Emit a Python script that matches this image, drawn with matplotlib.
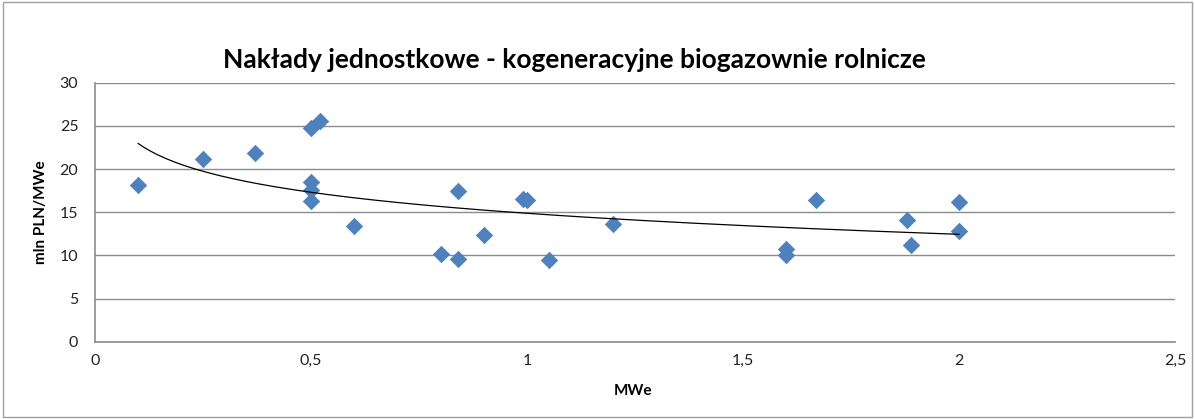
import numpy as np
import matplotlib
matplotlib.use("Agg")
import matplotlib.pyplot as plt
from matplotlib.patches import Rectangle

# Data (MWe, mln PLN/MWe)
power_mwe = [0.10, 0.25, 0.37, 0.50, 0.52, 0.50, 0.50, 0.50, 0.60, 0.80, 0.84, 0.84,
             0.90, 0.99, 1.00, 1.05, 1.20, 1.60, 1.60, 1.67, 1.88, 1.89, 2.00, 2.00]
unit_cost = [18.1, 21.2, 21.9, 24.7, 25.6, 18.5, 17.6, 16.3, 13.4, 10.2, 17.5, 9.6,
             12.4, 16.5, 16.4, 9.5, 13.6, 10.7, 10.0, 16.45, 14.05, 11.2, 16.2, 12.8]
x_ticks = [0, 0.5, 1, 1.5, 2, 2.5]
x_tick_labels = ["0", "0,5", "1", "1,5", "2", "2,5"]
y_ticks = [0, 5, 10, 15, 20, 25, 30]
title = "Nakłady jednostkowe - kogeneracyjne biogazownie rolnicze"

plt.rcParams['font.family'] = ['Lato', 'DejaVu Sans']

fig = plt.figure(figsize=(11.95, 4.19), dpi=100)
ax = fig.add_axes([95/1195, 1 - 341.7/419, (1175-95)/1195, (341.7-82.7)/419])

x = np.array(power_mwe)
y = np.array(unit_cost)

# Logarithmic trendline (least squares of y on ln x, as Excel does)
a, c = np.polyfit(np.log(x), y, 1)
xt = np.linspace(x.min(), x.max(), 200)
yt = a * np.log(xt) + c

ax.scatter(x, y, marker='D', s=70, color='#4F81BD', edgecolors='#4A7EBB', linewidths=0.5, zorder=3)
ax.plot(xt, yt, color='black', lw=0.9, zorder=4)

ax.set_xlim(0, 2.5)
ax.set_ylim(0, 30)
ax.set_xticks(x_ticks)
ax.set_xticklabels(x_tick_labels)
ax.set_yticks(y_ticks)
ax.yaxis.grid(True, color='#8C8C8C', lw=1.0)
ax.set_axisbelow(True)
for s in ['top', 'right']:
    ax.spines[s].set_visible(False)
for s in ['left', 'bottom']:
    ax.spines[s].set_color('#8C8C8C')
    ax.spines[s].set_linewidth(1.2)
ax.tick_params(axis='both', length=0, labelsize=11.5, colors='#222222', pad=9)
ax.tick_params(axis='y', pad=12)

ax.set_ylabel("mln PLN/MWe", fontsize=11, fontweight='bold', labelpad=8)
fig.text(633/1195, 1 - 391/419, "MWe", fontsize=11, fontweight='bold', ha='center', va='center')
fig.text(574/1195, 1 - 60/419, title, fontsize=19, fontweight='bold', ha='center', va='center')

fig.patches.append(Rectangle((3/1195, 2/419), 1 - 6/1195, 1 - 4/419, transform=fig.transFigure,
                             fill=False, edgecolor='#A0A0A0', lw=1.0))

fig.savefig("out.png", dpi=100)
